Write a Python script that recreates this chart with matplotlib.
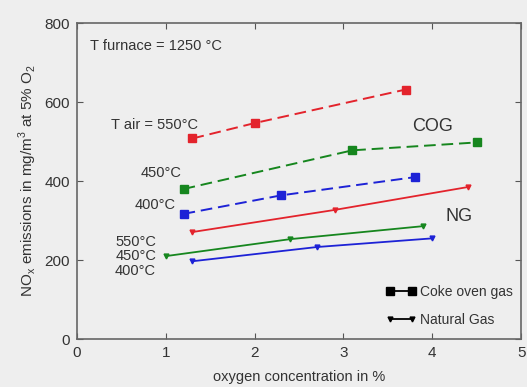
import matplotlib
matplotlib.use('Agg')
import matplotlib.pyplot as plt
from matplotlib.lines import Line2D

plt.rcParams['font.family'] = ['Liberation Sans', 'DejaVu Sans']

# coke oven gas (dashed, squares)
cog_550_x = [1.3, 2.0, 3.7]
cog_550_y = [508, 547, 632]
cog_450_x = [1.2, 3.1, 4.5]
cog_450_y = [380, 478, 498]
cog_400_x = [1.2, 2.3, 3.8]
cog_400_y = [317, 364, 410]

# natural gas (solid, triangles)
ng_550_x = [1.3, 2.9, 4.4]
ng_550_y = [271, 327, 385]
ng_450_x = [1.0, 2.4, 3.9]
ng_450_y = [210, 253, 286]
ng_400_x = [1.3, 2.7, 4.0]
ng_400_y = [197, 233, 255]

red = '#e3232c'
green = '#16861e'
blue = '#1d22d6'
bg = '#eeeeee'
txt = '#333333'
fs = 10.5

fig = plt.figure(figsize=(5.27, 3.87), dpi=100, facecolor=bg)
ax = fig.add_axes([0.146, 0.124, 0.843, 0.816], facecolor=bg)

for x, y, c in [(cog_550_x, cog_550_y, red), (cog_450_x, cog_450_y, green), (cog_400_x, cog_400_y, blue)]:
    ax.plot(x, y, color=c, ls=(0, (6, 3)), lw=1.4, marker='s', ms=5.5)
for x, y, c in [(ng_550_x, ng_550_y, red), (ng_450_x, ng_450_y, green), (ng_400_x, ng_400_y, blue)]:
    ax.plot(x, y, color=c, ls='-', lw=1.3, marker='v', ms=3.5)

ax.set_xlim(0, 5)
ax.set_ylim(0, 800)
ax.set_xticks([0, 1, 2, 3, 4, 5])
ax.set_yticks([0, 200, 400, 600, 800])
ax.tick_params(direction='in', top=True, right=True, labelsize=11, colors='#555555',
               labelcolor=txt, length=4, pad=5)
for s in ax.spines.values():
    s.set_color('#666666')
    s.set_linewidth(1.2)

ax.set_xlabel('oxygen concentration in %', fontsize=fs, color=txt, labelpad=7)
ax.set_ylabel('NO$_\\mathregular{x}$ emissions in mg/m$^\\mathregular{3}$ at 5% O$_\\mathregular{2}$',
              fontsize=11, color=txt, labelpad=4)

ax.text(0.15, 742, 'T furnace = 1250 °C', fontsize=fs, color=txt, va='center')
ax.text(1.36, 542, 'T air = 550°C', fontsize=fs, color=txt, va='center', ha='right')
ax.text(1.18, 420, '450°C', fontsize=fs, color=txt, va='center', ha='right')
ax.text(1.11, 339, '400°C', fontsize=fs, color=txt, va='center', ha='right')
ax.text(4.0, 539, 'COG', fontsize=13, color=txt, va='center', ha='center')
ax.text(4.3, 311, 'NG', fontsize=13, color=txt, va='center', ha='center')
ax.text(0.89, 246, '550°C', fontsize=fs, color=txt, va='center', ha='right')
ax.text(0.89, 210, '450°C', fontsize=fs, color=txt, va='center', ha='right')
ax.text(0.89, 172, '400°C', fontsize=fs, color=txt, va='center', ha='right')

handles = [Line2D([], [], color='black', lw=1.3, marker='s', ms=5.5),
           Line2D([], [], color='black', lw=1.3, marker='v', ms=3.5)]
ax.legend(handles, ['Coke oven gas', 'Natural Gas'], loc='lower right', frameon=False,
          fontsize=10, numpoints=2, handlelength=2.2, handletextpad=0.3, labelspacing=1.0,
          bbox_to_anchor=(1.01, 0.0), labelcolor=txt)

fig.savefig('out.png', dpi=100, facecolor=bg)
